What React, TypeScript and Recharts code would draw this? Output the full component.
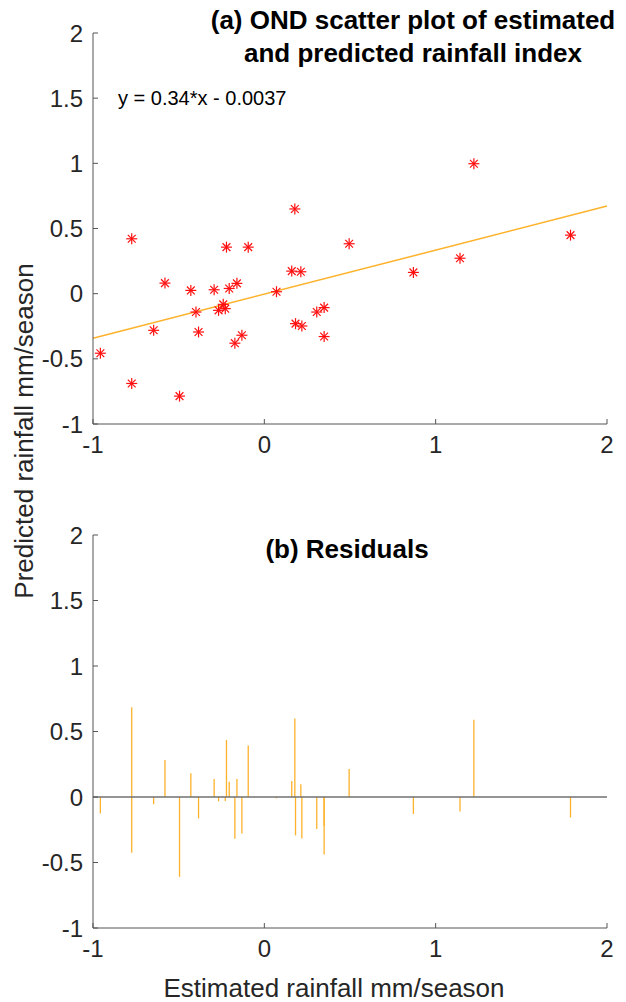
import React from "react"
import { ComposedChart, Scatter, XAxis, YAxis, ReferenceLine } from "recharts"

const estimated = [-0.957, -0.774, -0.774, -0.646, -0.58, -0.495, -0.429, -0.399, -0.384, -0.293, -0.267, -0.24, -0.228, -0.221, -0.205, -0.172, -0.16, -0.131, -0.094, 0.071, 0.16, 0.178, 0.182, 0.213, 0.219, 0.306, 0.349, 0.349, 0.495, 0.87, 1.142, 1.223, 1.787]
const predicted = [-0.457, 0.421, -0.689, -0.281, 0.081, -0.786, 0.025, -0.141, -0.294, 0.03, -0.128, -0.082, -0.115, 0.357, 0.04, -0.38, 0.079, -0.319, 0.357, 0.015, 0.173, 0.65, -0.23, 0.168, -0.248, -0.141, -0.107, -0.329, 0.383, 0.163, 0.272, 0.997, 0.449]
const residuals = [-0.125, 0.686, -0.426, -0.056, 0.283, -0.61, 0.181, -0.002, -0.163, 0.138, -0.033, 0.003, -0.031, 0.436, 0.117, -0.319, 0.138, -0.278, 0.393, -0.01, 0.122, 0.6, -0.293, 0.097, -0.316, -0.245, -0.222, -0.439, 0.214, -0.13, -0.11, 0.589, -0.156]
const fitX = [-1, 2]
const fitY = [-0.342, 0.672]

const xTicks = [-1, 0, 1, 2]
const yTicks = [-1, -0.5, 0, 0.5, 1, 1.5, 2]

const scatterData = estimated.map((x, i) => ({ x, y: predicted[i] }))
const residualData = estimated.map((x, i) => ({ x, y: residuals[i] }))

const FONT = "'Liberation Sans', Arial, Helvetica, sans-serif"
const AXIS = "#555555"
const TEXT = "#262626"
const ORANGE = "#FDB22B"
const TICK_FS = 24
const MARGIN = 10

function Star(props: any) {
  const { cx, cy } = props
  const r = 5.5
  const d = 3.9
  return (
    <g stroke="#FF1010" strokeWidth={1.2}>
      <line x1={cx - r} y1={cy} x2={cx + r} y2={cy} />
      <line x1={cx} y1={cy - r} x2={cx} y2={cy + r} />
      <line x1={cx - d} y1={cy - d} x2={cx + d} y2={cy + d} />
      <line x1={cx - d} y1={cy + d} x2={cx + d} y2={cy - d} />
    </g>
  )
}

function XTick(props: any) {
  const { x, y, payload } = props
  const axisY = y - MARGIN
  return (
    <g>
      <line x1={x} y1={axisY} x2={x} y2={axisY - 5} stroke={AXIS} />
      <text x={x} y={y} dy="0.8em" textAnchor="middle" fill={TEXT} fontSize={TICK_FS} fontFamily={FONT}>
        {String(payload.value)}
      </text>
    </g>
  )
}

function YTick(props: any) {
  const { x, y, payload } = props
  const axisX = x + MARGIN
  return (
    <g>
      <line x1={axisX} y1={y} x2={axisX + 5} y2={y} stroke={AXIS} />
      <text x={x} y={y} dy="0.36em" textAnchor="end" fill={TEXT} fontSize={TICK_FS} fontFamily={FONT}>
        {String(payload.value)}
      </text>
    </g>
  )
}

function Axes({ xHeight }: { xHeight: number }) {
  return null
}

export default function App() {
  return (
    <div style={{ position: "absolute", left: 0, top: 0, width: 626, height: 1002, background: "#fff" }}>
      {/* (a) scatter */}
      <div style={{ position: "absolute", left: 0, top: 0 }}>
        <ComposedChart width={626} height={470} margin={{ top: 33, right: 19, bottom: 0, left: 0 }}>
          <XAxis
            type="number"
            dataKey="x"
            domain={[-1, 2]}
            ticks={xTicks}
            allowDataOverflow
            height={46}
            axisLine={{ stroke: AXIS }}
            tickLine={false}
            tickSize={0}
            tickMargin={MARGIN}
            tick={<XTick />}
          />
          <YAxis
            type="number"
            dataKey="y"
            domain={[-1, 2]}
            ticks={yTicks}
            allowDataOverflow
            width={93}
            axisLine={{ stroke: AXIS }}
            tickLine={false}
            tickSize={0}
            tickMargin={MARGIN}
            tick={<YTick />}
          />
          <ReferenceLine
            segment={[{ x: fitX[0], y: fitY[0] }, { x: fitX[1], y: fitY[1] }]}
            stroke={ORANGE}
            strokeWidth={1.5}
          />
          <Scatter data={scatterData} dataKey="y" shape={<Star />} isAnimationActive={false} />
        </ComposedChart>
      </div>

      {/* (b) residuals */}
      <div style={{ position: "absolute", left: 0, top: 500 }}>
        <ComposedChart width={626} height={502} margin={{ top: 35, right: 19, bottom: 0, left: 0 }}>
          <XAxis
            type="number"
            dataKey="x"
            domain={[-1, 2]}
            ticks={xTicks}
            allowDataOverflow
            height={74}
            axisLine={{ stroke: AXIS }}
            tickLine={false}
            tickSize={0}
            tickMargin={MARGIN}
            tick={<XTick />}
          />
          <YAxis
            type="number"
            dataKey="y"
            domain={[-1, 2]}
            ticks={yTicks}
            allowDataOverflow
            width={93}
            axisLine={{ stroke: AXIS }}
            tickLine={false}
            tickSize={0}
            tickMargin={MARGIN}
            tick={<YTick />}
          />
          <Scatter data={residualData} dataKey="y" shape={() => <g />} isAnimationActive={false} />
          {residualData.map((d, i) => (
            <ReferenceLine
              key={i}
              segment={[{ x: d.x, y: 0 }, { x: d.x, y: d.y }]}
              stroke={ORANGE}
              strokeWidth={1.3}
            />
          ))}
          <ReferenceLine y={0} stroke="#707070" strokeWidth={1.5} />
        </ComposedChart>
      </div>

      {/* titles and labels */}
      <svg width={626} height={1002} style={{ position: "absolute", left: 0, top: 0, pointerEvents: "none" }} fontFamily={FONT}>
        <text x={413} y={20} textAnchor="middle" dominantBaseline="central" fontSize={26} fontWeight="bold" fill="#000">
          (a) OND scatter plot of estimated
        </text>
        <text x={413} y={53} textAnchor="middle" dominantBaseline="central" fontSize={26} fontWeight="bold" fill="#000">
          and predicted rainfall index
        </text>
        <text x={118} y={98} dominantBaseline="central" fontSize={20} fill="#000">
          y = 0.34*x - 0.0037
        </text>
        <text x={347} y={549} textAnchor="middle" dominantBaseline="central" fontSize={26} fontWeight="bold" fill="#000">
          (b) Residuals
        </text>
        <text x={334} y={988} textAnchor="middle" dominantBaseline="central" fontSize={26} fill={TEXT}>
          Estimated rainfall mm/season
        </text>
        <text
          x={24}
          y={431}
          textAnchor="middle"
          dominantBaseline="central"
          fontSize={26}
          fill={TEXT}
          transform="rotate(-90 24 431)"
        >
          Predicted rainfall mm/season
        </text>
      </svg>
    </div>
  )
}
